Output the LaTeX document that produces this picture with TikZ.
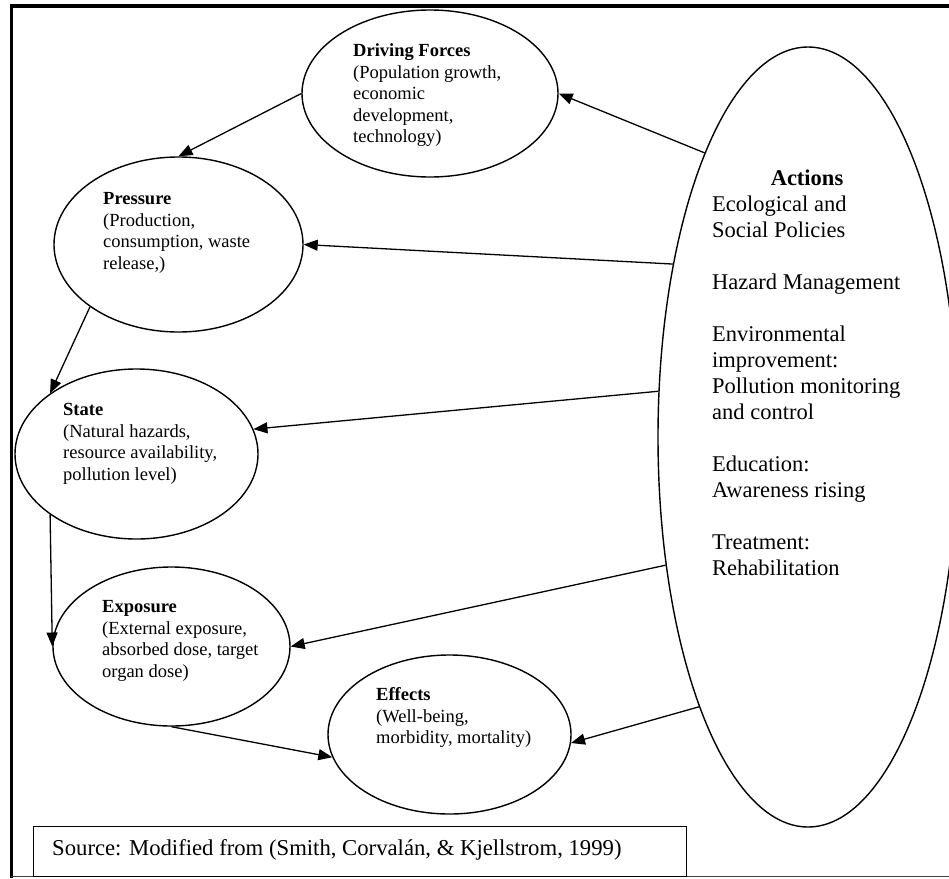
\documentclass[tikz,border=0pt]{standalone}
\usepackage{fontspec}
\setmainfont{Liberation Serif}
\usetikzlibrary{shapes.geometric,arrows.meta}
\begin{document}
\begin{tikzpicture}[x=1pt,y=-1pt,
  oval/.style={draw, ellipse, line width=1.4pt, inner sep=0pt},
  body/.style={anchor=north west, inner sep=0pt, align=left, font=\fontsize{18.5}{21.5}\selectfont},
  actbody/.style={anchor=north west, inner sep=0pt, align=left, font=\fontsize{22.5}{26}\selectfont},
  link/.style={line width=1.3pt, -{Triangle[length=14pt,width=11pt]}}]
\useasboundingbox (0,0) rectangle (949,878);
% frame
\draw[line width=3.5pt] (10,6) -- (949,6);
\draw[line width=3.5pt] (11.5,4.25) -- (11.5,878);
\draw[line width=1.2pt, black!75] (11,876.5) -- (949,876.5);
% ellipses
\node[oval, minimum width=256pt, minimum height=167pt] (df) at (430,93.5) {};
\node[oval, minimum width=249pt, minimum height=175pt] (pr) at (178.5,244.5) {};
\node[oval, minimum width=243pt, minimum height=170pt] (st) at (136.5,454) {};
\node[oval, minimum width=237pt, minimum height=159pt] (ex) at (171.5,646.5) {};
\node[oval, minimum width=243pt, minimum height=159pt] (ef) at (449.5,734.5) {};
\node[oval, minimum width=300pt, minimum height=780pt] (act) at (808,437) {};
% texts
\node[body] (df-t) at (353,43.5) {\textbf{Driving Forces}\\(Population growth,\\economic\\development,\\technology)};
\node[body] (pr-t) at (103,192.5) {\textbf{Pressure}\\(Production,\\consumption, waste\\release,)};
\node[body] (st-t) at (63,403.5) {\textbf{State}\\(Natural hazards,\\resource availability,\\pollution level)};
\node[body] (ex-t) at (102,600.5) {\textbf{Exposure}\\(External exposure,\\absorbed dose, target\\organ dose)};
\node[body] (ef-t) at (376,687.5) {\textbf{Effects}\\(Well-being,\\morbidity, mortality)};
\node[anchor=base, inner sep=0pt, font=\fontsize{22.5}{26}\selectfont\bfseries] (act-h) at (807,185) {Actions};
\node[actbody] (act-t) at (712,195.6) {Ecological and\\Social Policies\\[26pt]Hazard Management\\[26pt]Environmental\\improvement:\\Pollution monitoring\\and control\\[26pt]Education:\\Awareness rising\\[26pt]Treatment:\\Rehabilitation};
% source
\node[draw, line width=1.3pt, minimum width=653pt, minimum height=50pt, inner sep=0pt, anchor=north west] (srcbox) at (33,826) {};
\node[anchor=west, inner sep=0pt, font=\fontsize{22.7}{26}\selectfont] (src) at (52,850) {Source: Modified from (Smith, Corvalán, \& Kjellstrom, 1999)};
% arrows
\draw[link] (df.west) -- (pr.north);
\draw[link] (pr.south west) -- (st.north west);
\draw[link] (st.south west) -- (ex.west);
\draw[link] (ex.south) -- (ef.191);
\draw[link] (act.110.7) -- (df.east);
\draw[link] (act.128.5) -- (pr.east);
\draw[link] (act.163.9) -- (st.12);
\draw[link] (act.222.9) -- (ex.east);
\draw[link] (act.248.7) -- (ef.-4);
\end{tikzpicture}
\end{document}
